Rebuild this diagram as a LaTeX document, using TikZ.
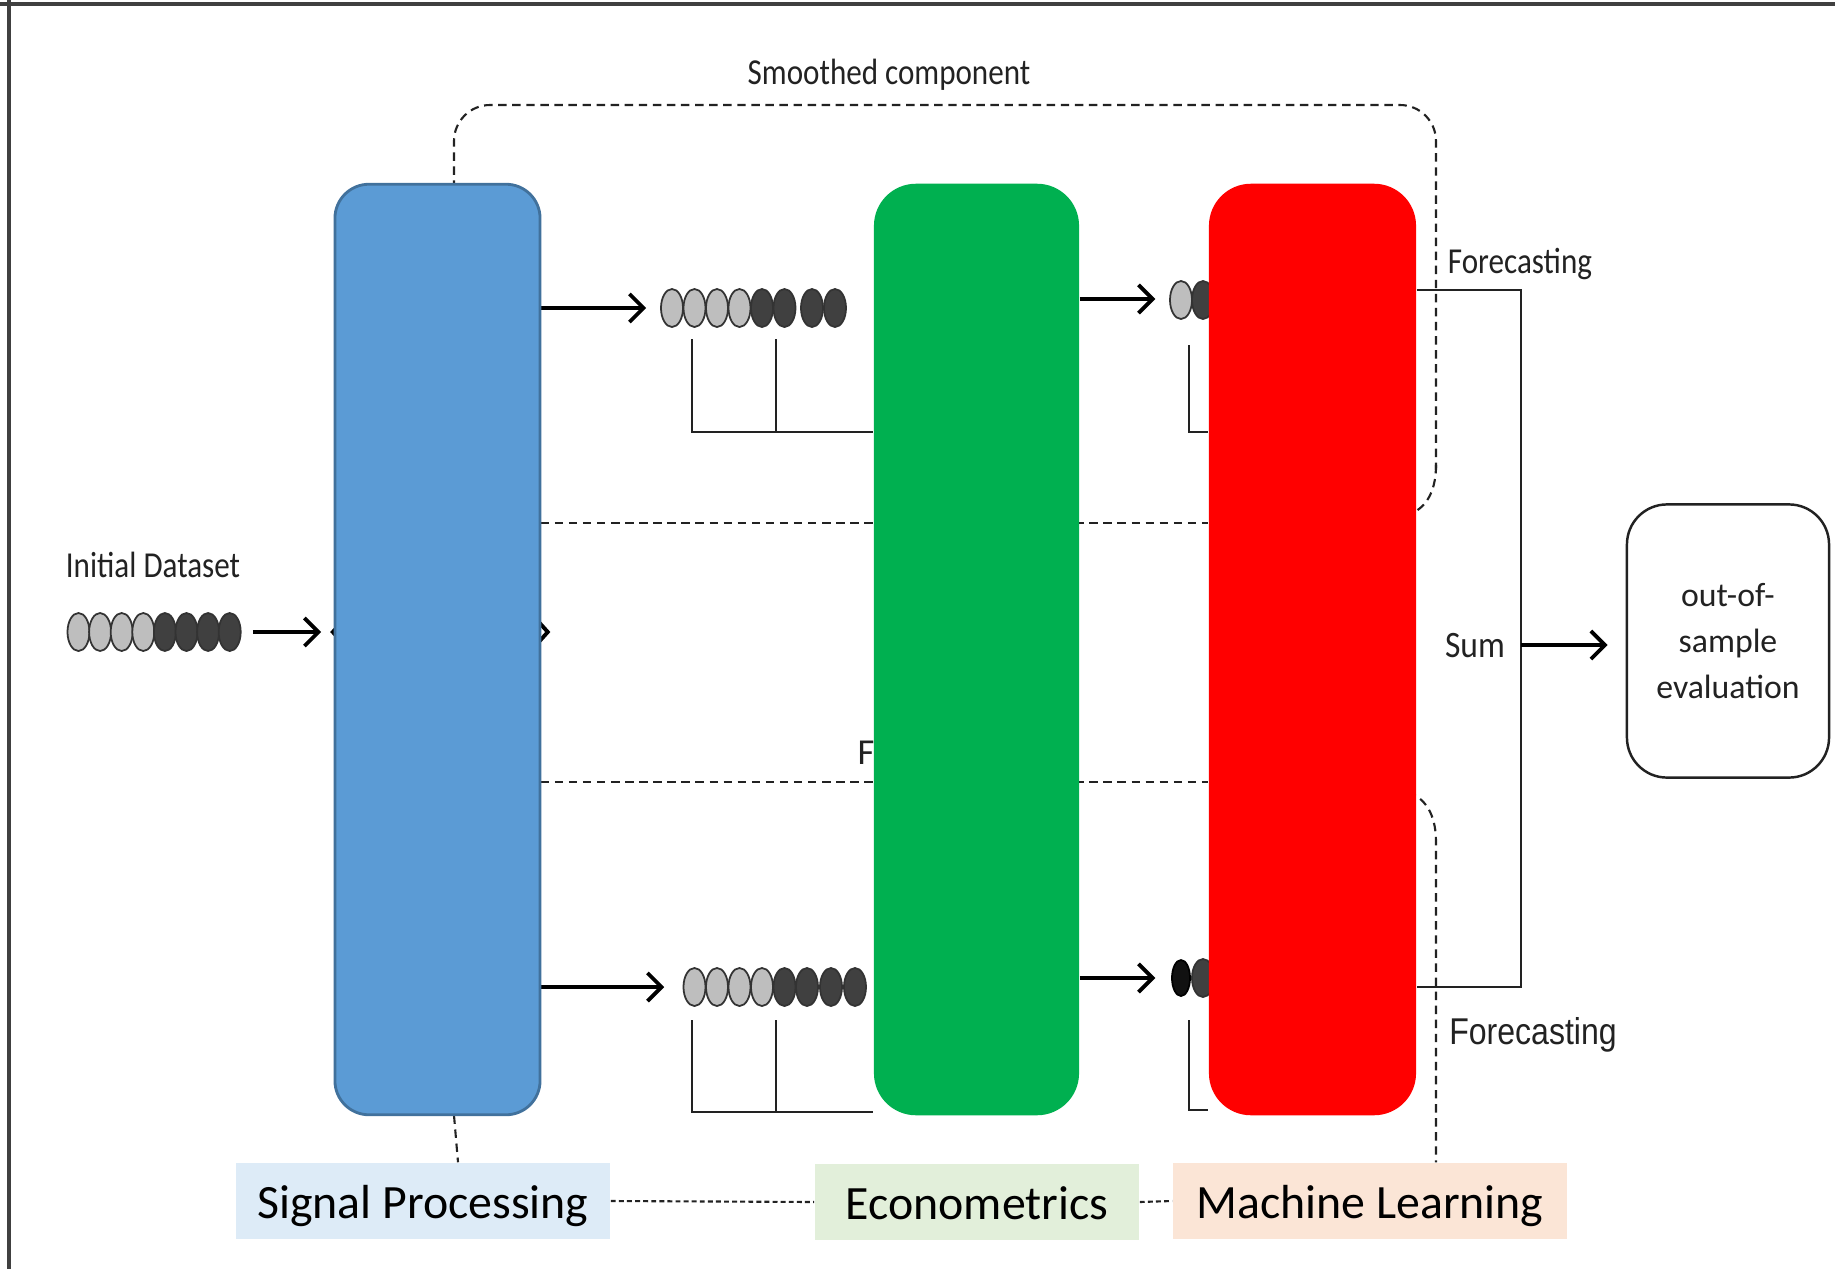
\documentclass[tikz,border=0pt]{standalone}
\usepackage{fontspec}
\setmainfont{Carlito}
\newfontfamily\arialfont{Liberation Sans}
\usetikzlibrary{arrows.meta,calc}
\definecolor{spblue}{HTML}{5B9BD5}
\definecolor{spedge}{HTML}{41719C}
\definecolor{ecgreen}{HTML}{00B050}
\definecolor{mlred}{HTML}{FF0000}
\definecolor{beadL}{HTML}{BEBEBE}
\definecolor{beadD}{HTML}{404040}
\definecolor{beadK}{HTML}{111111}
\definecolor{tagblue}{HTML}{DDEBF7}
\definecolor{taggreen}{HTML}{E2EFDA}
\definecolor{tagorange}{HTML}{FBE5D6}
\definecolor{ink}{HTML}{222222}
% one bead of a series: x, y, fill colour
\newcommand\bead[3]{\filldraw[fill=#3, draw=black!80, line width=0.5pt] (#1,#2) ellipse [x radius=0.11cm, y radius=0.19cm];}
\begin{document}
\begin{tikzpicture}[x=0.01cm, y=-0.01cm,
  conn/.style={line width=0.6pt, draw=ink},
  arr/.style={line width=1.1pt, draw=black, -{Straight Barb[length=4pt,width=8pt,line width=1.1pt]}},
  dsh/.style={line width=0.6pt, draw=ink, dash pattern=on 2.4pt off 1.6pt},
  fdsh/.style={line width=0.6pt, draw=ink, dash pattern=on 1.4pt off 0.9pt},
  methodbox/.style={rectangle, minimum width=2.05cm, minimum height=9.3cm, inner sep=0pt},
  tag/.style={rectangle, minimum height=0.76cm, inner sep=0pt, text height=11.4pt, text depth=1.4pt,
              font=\fontsize{13.6}{16}\selectfont},
  rowbox/.style={rectangle, inner sep=0pt, minimum height=0.38cm},
  lbl/.style={font=\fontsize{10.4}{12}\selectfont, xscale=0.85, text=ink, inner sep=1pt}
]
\useasboundingbox (0,0) rectangle (1835,1269);
\fill[white] (0,0) rectangle (1835,1269);
% frame edges
\draw[line width=0.9pt, draw=black!75] (0,4) -- (1835,4);
\draw[line width=0.9pt, draw=black!75] (9,0) -- (9,1269);

% placeholders for the bead series
\node[rowbox, minimum width=1.74cm] (init) at (154,632) {};
\node[rowbox, minimum width=1.85cm] (rowA) at (753.5,308) {};
\node[rowbox, minimum width=0.44cm] (rowB) at (1192,299) {};
\node[rowbox, minimum width=1.84cm] (rowC) at (775,987) {};
\node[rowbox, minimum width=0.44cm] (rowD) at (1192,978) {};

% method blocks (positions only, drawn later on top)
\path (437.5,649.5) node[methodbox] (sp) {};
\path (976.5,649.5) node[methodbox, minimum height=9.31cm] (ec) {};
\path (1312.5,649.5) node[methodbox, minimum width=2.07cm, minimum height=9.31cm] (ml) {};

% bottom tags
\node[tag, fill=tagblue, minimum width=3.74cm] (tsp) at (423,1201) {Signal Processing};
\node[tag, fill=taggreen, minimum width=3.24cm] (tec) at (977,1202) {Econometrics};
\node[tag, fill=tagorange, minimum width=3.94cm] (tml) at (1370,1201) {Machine Learning};
\draw[fdsh] (tsp.east) -- (tec.west);
\draw[fdsh] (tec.east) -- (tml.west);

% dashed grouping outlines
\coordinate (dR) at (1436,0);
\draw[dsh, rounded corners=0.36cm] ([xshift=0.165cm]sp.north) -- ++(0,-0.8cm) |- (1436,105) -- (1436,470);
\draw[dsh] (1436,465) to[out=-90,in=20] (1408,515);
\draw[dsh] (1408,792) to[out=-20,in=90] (1436,842) -- (tml.north -| dR);
\draw[dsh] ([xshift=0.165cm]sp.south) to[out=-85,in=95] ([xshift=0.35cm]tsp.north);
\coordinate (hA) at (0,523);
\coordinate (hB) at (0,782);
\draw[dsh] (sp.east |- hA) -- (ml.west |- hA);
\draw[dsh] (sp.east |- hB) -- (ml.west |- hB);
\node[font=\fontsize{10.4}{12}\selectfont, text=ink, inner sep=0pt] (fres) at (866,753) {F};

% initial dataset
\node[lbl, anchor=south] (tinit) at (153,582) {Initial Dataset};
\foreach \x/\c in {78.5/beadL,100.1/beadL,121.7/beadL,143.3/beadL,164.9/beadD,186.5/beadD,208.1/beadD,229.7/beadD}
  {\bead{\x}{632}{\c}}
\draw[arr] ([xshift=0.11cm]init.east) -- ([xshift=-0.13cm]sp.west |- init.east);
\fill[black] ([xshift=0.06cm]sp.west |- init.east) -- ++(-0.1cm,0) -- ++(0.08cm,0.09cm) -- cycle;
\fill[black] ([xshift=0.06cm]sp.west |- init.east) -- ++(-0.1cm,0) -- ++(0.08cm,-0.09cm) -- cycle;
\draw[line width=1.1pt] ([xshift=-0.02cm,yshift=0.1cm]sp.east |- init.east) -- ([xshift=0.07cm]sp.east |- init.east) -- ([xshift=-0.02cm,yshift=-0.1cm]sp.east |- init.east);

% smoothed branch
\draw[arr] (sp.east |- rowA.west) -- ([xshift=-0.14cm]rowA.west);
\foreach \x/\c in {672/beadL,694.5/beadL,717/beadL,739.5/beadL,762/beadD,784.5/beadD,812/beadD,835/beadD}
  {\bead{\x}{308}{\c}}
\draw[conn] (692,339) |- (ec.west |- 0,432);
\draw[conn] (776,339) -- (776,432);
\draw[arr] (ec.east |- rowB.west) -- ([xshift=-0.14cm]rowB.west);
\bead{1181}{300}{beadL}
\bead{1203}{300}{beadD}
\draw[conn] (1189,345) |- (ml.west |- 0,432);

% residual branch
\draw[arr] (sp.east |- rowC.west) -- ([xshift=-0.18cm]rowC.west);
\foreach \x/\c in {694.5/beadL,717/beadL,739.5/beadL,762/beadL,784.5/beadD,807/beadD,831/beadD,855/beadD}
  {\bead{\x}{987}{\c}}
\draw[conn] (692,1020) |- (ec.west |- 0,1112);
\draw[conn] (776,1020) -- (776,1112);
\draw[arr] (ec.east |- rowD.west) -- ([xshift=-0.14cm]rowD.west);
\filldraw[fill=beadK, draw=black, line width=0.5pt] (1181,978) ellipse [x radius=0.09cm, y radius=0.18cm];
\bead{1203}{978}{beadD}
\draw[conn] (1189,1020) |- (ml.west |- 0,1110);

% method blocks
\node[methodbox, fill=spblue, draw=spedge, line width=0.8pt, rounded corners=0.34cm] at (sp) {};
\node[methodbox, minimum height=9.31cm, fill=ecgreen, rounded corners=0.42cm] at (ec) {};
\node[methodbox, minimum width=2.07cm, minimum height=9.31cm, fill=mlred, rounded corners=0.42cm] at (ml) {};

% forecasts summed and evaluated
\node[rectangle, draw=ink, line width=0.7pt, rounded corners=0.4cm, minimum width=2.02cm, minimum height=2.73cm,
      align=center, font=\fontsize{9.6}{13.2}\selectfont, text=ink] (oos) at (1728,641) {out-of-\\sample\\evaluation};
\coordinate (fA) at (1521,290);
\coordinate (fB) at (1521,987);
\coordinate (fS) at (1521,645);
\draw[conn] (ml.east |- fA) -- (fA) -- (fB) -- (ml.east |- fB);
\draw[arr] (fS) -- ([xshift=-0.18cm]oos.west |- fS);
\node[lbl] (fc1) at (1520,264) {Forecasting};
\node[font=\fontsize{10.6}{12}\selectfont, xscale=0.9, text=ink, inner sep=1pt] (sum) at (1475,646) {Sum};
\node[font=\arialfont\fontsize{10.6}{12}\selectfont, text=ink, inner sep=1pt, xscale=0.86] (fc2) at (1533,1035) {Forecasting};
\node[lbl] (smooth) at (889,75) {Smoothed component};
\end{tikzpicture}
\end{document}
